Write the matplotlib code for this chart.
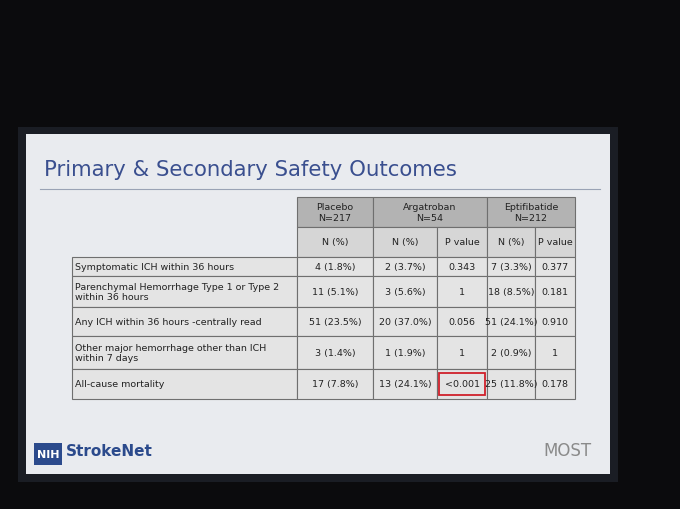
import matplotlib

matplotlib.use("Agg")
import matplotlib.pyplot as plt
from matplotlib.patches import Rectangle

TITLE = "Primary & Secondary Safety Outcomes"
groups = ["Placebo\nN=217", "Argatroban\nN=54", "Eptifibatide\nN=212"]
subheads = ["N (%)", "N (%)", "P value", "N (%)", "P value"]
outcomes = [
    "Symptomatic ICH within 36 hours",
    "Parenchymal Hemorrhage Type 1 or Type 2\nwithin 36 hours",
    "Any ICH within 36 hours -centrally read",
    "Other major hemorrhage other than ICH\nwithin 7 days",
    "All-cause mortality",
]
placebo = ["4 (1.8%)", "11 (5.1%)", "51 (23.5%)", "3 (1.4%)", "17 (7.8%)"]
argatroban = ["2 (3.7%)", "3 (5.6%)", "20 (37.0%)", "1 (1.9%)", "13 (24.1%)"]
argatroban_p = ["0.343", "1", "0.056", "1", "<0.001"]
eptifibatide = ["7 (3.3%)", "18 (8.5%)", "51 (24.1%)", "2 (0.9%)", "25 (11.8%)"]
eptifibatide_p = ["0.377", "0.181", "0.910", "1", "0.178"]

col_x = [72, 297, 373, 437, 487, 535, 575]
row_y = [198, 228, 258, 277, 308, 337, 370, 400]

fig = plt.figure(figsize=(6.8, 5.1), dpi=100)
fig.patch.set_facecolor("#0b0b0d")
ax = fig.add_axes([0, 0, 1, 1])
ax.set_xlim(0, 680)
ax.set_ylim(510, 0)
ax.axis("off")

# slide
ax.add_patch(Rectangle((18, 128), 600, 355, facecolor="#1a1d24", zorder=0))
ax.add_patch(Rectangle((26, 135), 584, 340, facecolor="#e9ebef", zorder=1))
ax.text(44, 170, TITLE, fontsize=15.3, color="#3a4f8f", va="center", zorder=3)
ax.plot([40, 600], [190, 190], color="#9aa3b5", lw=0.8, zorder=3)

line = "#6f6f6f"
# header cells
spans = [(col_x[1], col_x[2]), (col_x[2], col_x[4]), (col_x[4], col_x[6])]
for g, (x0, x1) in zip(groups, spans):
    ax.add_patch(Rectangle((x0, row_y[0]), x1 - x0, row_y[1] - row_y[0],
                           facecolor="#b3b3b3", edgecolor=line, lw=0.8, zorder=2))
    ax.text((x0 + x1) / 2, (row_y[0] + row_y[1]) / 2, g, ha="center", va="center",
            fontsize=6.8, color="#222", zorder=3)
for j, s in enumerate(subheads):
    x0, x1 = col_x[j + 1], col_x[j + 2]
    ax.add_patch(Rectangle((x0, row_y[1]), x1 - x0, row_y[2] - row_y[1],
                           facecolor="#d6d6d6", edgecolor=line, lw=0.8, zorder=2))
    ax.text((x0 + x1) / 2, (row_y[1] + row_y[2]) / 2, s, ha="center", va="center",
            fontsize=6.8, color="#222", zorder=3)

cols = [outcomes, placebo, argatroban, argatroban_p, eptifibatide, eptifibatide_p]
for r in range(len(outcomes)):
    y0, y1 = row_y[r + 2], row_y[r + 3]
    for c, vals in enumerate(cols):
        x0, x1 = col_x[c], col_x[c + 1]
        ax.add_patch(Rectangle((x0, y0), x1 - x0, y1 - y0, facecolor="#e4e4e4",
                               edgecolor=line, lw=0.8, zorder=2))
        if c == 0:
            ax.text(x0 + 3, (y0 + y1) / 2, vals[r], ha="left", va="center",
                    fontsize=6.8, color="#222", linespacing=1.1, zorder=3)
        else:
            ax.text((x0 + x1) / 2, (y0 + y1) / 2, vals[r], ha="center", va="center",
                    fontsize=6.8, color="#222", zorder=3)

# highlight the significant p value
ax.add_patch(Rectangle((col_x[3] + 2, row_y[6] + 4), col_x[4] - col_x[3] - 4,
                       row_y[7] - row_y[6] - 8, facecolor="none",
                       edgecolor="#d0202a", lw=1.3, zorder=4))

# footer logos
ax.add_patch(Rectangle((34, 444), 28, 22, facecolor="#2b4a8c", zorder=3))
ax.text(48, 455, "NIH", color="white", fontsize=8, fontweight="bold",
        ha="center", va="center", zorder=4)
ax.text(66, 452, "StrokeNet", color="#2b4a8c", fontsize=11, fontweight="bold",
        va="center", zorder=4)
ax.text(543, 451, "MOST", color="#8a8a8a", fontsize=12, va="center", zorder=4)

fig.savefig("out.png", dpi=100, facecolor=fig.get_facecolor())
